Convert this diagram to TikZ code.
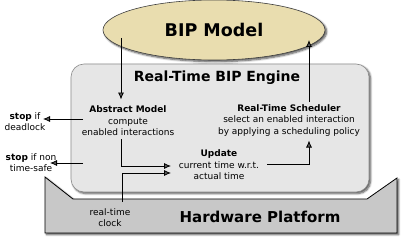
\documentclass[tikz,border=0pt]{standalone}
\usepackage{fontspec}
\setmainfont{DejaVu Sans}
\usetikzlibrary{arrows.meta,shapes.geometric,shadows.blur}
\definecolor{tan}{HTML}{E9DDAF}
\definecolor{engfill}{HTML}{E6E6E6}
\definecolor{hwfill}{HTML}{C8C8C8}
\tikzset{
  shad/.style={blur shadow={shadow xshift=1.6pt,shadow yshift=-1.6pt,shadow blur steps=6,shadow blur radius=2pt,shadow opacity=70}},
  lbl/.style={align=center,font=\fontsize{9}{11.5}\selectfont,inner sep=0pt},
  arr/.style={-{Latex[length=7pt,width=6pt]},line width=0.8pt},
}
\begin{document}
\begin{tikzpicture}[x=1pt,y=-1pt]
\useasboundingbox (0,0) rectangle (403,243);
% hardware platform
\path[shad,fill=hwfill,draw=black,line width=0.8pt]
  (45,177) -- (73,199) -- (367,199) -- (397,178) -- (397,233) -- (45,233) -- cycle;
% engine
\path[shad,fill=engfill,draw=black!45,line width=0.6pt,rounded corners=13pt]
  (71,64) rectangle (369,192);
% BIP model
\node[ellipse,shad,fill=tan,draw=black!75,line width=0.6pt,minimum width=222pt,minimum height=60pt,inner sep=0pt,
  font=\fontsize{17.5}{20}\selectfont\bfseries] (bip) at (214,30) {BIP Model};
% texts
\node[inner sep=0pt,font=\fontsize{14}{16}\selectfont\bfseries] (title) at (217,78) {Real-Time BIP Engine};
\node[inner sep=0pt,font=\fontsize{15}{17}\selectfont\bfseries] (hw) at (260,217) {Hardware Platform};
\node[lbl] (abs) at (128,121) {\textbf{Abstract Model}\\compute\\enabled interactions};
\node[lbl] (sched) at (289,120.5) {\textbf{Real-Time Scheduler}\\select an enabled interaction\\by applying a scheduling policy};
\node[lbl] (upd) at (219,165) {\textbf{Update}\\current time w.r.t.\\actual time};
\node[lbl] (stop1) at (25,121.5) {\textbf{stop} if\\deadlock};
\node[lbl] (stop2) at (31,162.5) {\textbf{stop} if non\\time-safe};
\node[lbl] (clock) at (110,217.5) {real-time\\clock};
% coordinates
\coordinate (a1s) at (121,38);
\coordinate (a1e) at (121,99.5);
\coordinate (a2s) at (309,102);
\coordinate (a2e) at (309,40);
\coordinate (a3s) at (83,119);
\coordinate (a3e) at (43,119);
\coordinate (a4s) at (83,163);
\coordinate (a4e) at (50,163);
\coordinate (a5s) at (121,139);
\coordinate (a5e) at (171,166);
\coordinate (a6s) at (122,202);
\coordinate (a6e) at (171,173);
\coordinate (a7s) at (267,164);
\coordinate (a7e) at (309,140.5);
% arrows
\draw[arr] (a1s) -- (a1e);
\draw[arr] (a2s) -- (a2e);
\draw[arr] (a3s) -- (a3e);
\draw[arr] (a4s) -- (a4e);
\draw[arr] (a5s) |- (a5e);
\draw[arr] (a6s) |- (a6e);
\draw[arr] (a7s) -| (a7e);
\end{tikzpicture}
\end{document}
